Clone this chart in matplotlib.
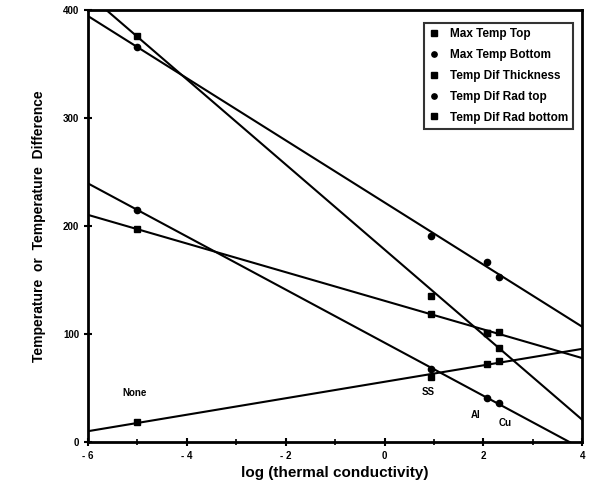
import numpy as np
import matplotlib.pyplot as plt

plt.rcParams['font.family'] = ['Liberation Sans', 'DejaVu Sans']
plt.rcParams['font.weight'] = 'bold'

# log(thermal conductivity) for None, SS, Al, Cu
log_k = [-5.0, 0.95, 2.07, 2.32]
materials = ["None", "SS", "Al", "Cu"]

max_temp_top = [376, 135, 101, 87]
max_temp_bottom = [366, 191, 167, 153]
temp_dif_thickness = [197, 118, 101, 102]
temp_dif_rad_top = [215, 67, 41, 36]
temp_dif_rad_bottom = [18, 60, 72, 75]

series = [
    ("Max Temp Top", max_temp_top, "s"),
    ("Max Temp Bottom", max_temp_bottom, "o"),
    ("Temp Dif Thickness", temp_dif_thickness, "s"),
    ("Temp Dif Rad top", temp_dif_rad_top, "o"),
    ("Temp Dif Rad bottom", temp_dif_rad_bottom, "s"),
]

fig = plt.figure(figsize=(5.91, 4.97), dpi=100)
ax = fig.add_axes([0.149, 0.111, 0.836, 0.869])

xs = np.array([-6, 4])
for name, vals, mk in series:
    ax.plot(log_k, vals, linestyle="none", marker=mk, color="black",
            markersize=4.5, label=name)
    m, b = np.polyfit(log_k, vals, 1)
    ax.plot(xs, m * xs + b, color="black", lw=1.5)

label_pos = [(-5.3, 42), (0.75, 43), (1.75, 22), (2.3, 15)]
for name, (lx, ly) in zip(materials, label_pos):
    ax.text(lx, ly, name, fontsize=7, fontweight="bold")

ax.set_xlim(-6, 4)
ax.set_ylim(0, 400)
ax.set_xticks(range(-6, 5, 2))
ax.set_xticks(range(-5, 5, 2), minor=True)
ax.set_xticklabels(["- 6", "- 4", "- 2", "0", "2", "4"])
ax.set_yticks([0, 100, 200, 300, 400])
ax.tick_params(direction="inout", length=6, width=1.5, labelsize=7)
ax.tick_params(which="minor", direction="inout", length=4, width=1.2)
for s in ax.spines.values():
    s.set_linewidth(2)

ax.set_xlabel("log (thermal conductivity)", fontsize=11, fontweight="bold")
ax.set_ylabel("Temperature  or  Temperature  Difference", fontsize=10,
              fontweight="bold", labelpad=12)

leg = ax.legend(loc="upper right", bbox_to_anchor=(0.982, 0.97), fontsize=8.5,
                frameon=True, fancybox=False, edgecolor="black",
                markerscale=0.85, handlelength=0.8, handletextpad=0.9,
                borderpad=0.45, labelspacing=0.75, borderaxespad=0)
leg.get_frame().set_linewidth(1.5)

fig.savefig("out.png", dpi=100)
